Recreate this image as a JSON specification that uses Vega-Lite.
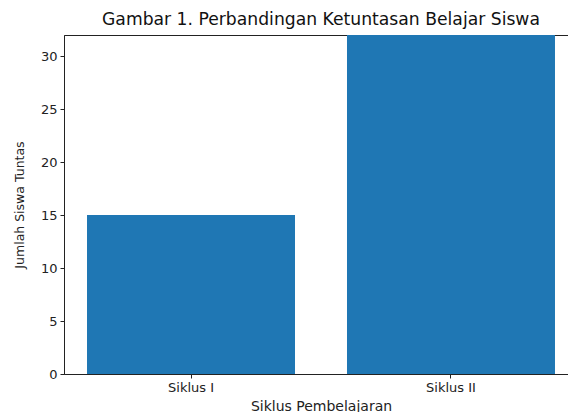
{
  "$schema": "https://vega.github.io/schema/vega-lite/v6.json",
  "autosize": "none",
  "padding": {"left": 64, "top": 35, "right": 0, "bottom": 38},
  "width": 514,
  "height": 339,
  "background": "white",
  "title": {
    "text": "Gambar 1. Perbandingan Ketuntasan Belajar Siswa",
    "font": "DejaVu Sans",
    "fontSize": 17.2,
    "fontWeight": "normal",
    "color": "#111",
    "offset": 7,
    "anchor": "middle"
  },
  "data": {
    "values": [
      {"siklus": "Siklus I", "jumlah": 15},
      {"siklus": "Siklus II", "jumlah": 32}
    ]
  },
  "mark": {"type": "bar", "color": "#1f77b4"},
  "encoding": {
    "x": {
      "field": "siklus",
      "type": "nominal",
      "sort": null,
      "scale": {"paddingInner": 0.2, "paddingOuter": 0.0885},
      "axis": {
        "title": "Siklus Pembelajaran",
        "labelAngle": 0,
        "titlePadding": 5,
        "titleFontSize": 14
      }
    },
    "y": {
      "field": "jumlah",
      "type": "quantitative",
      "scale": {"domain": [0, 32], "nice": false, "clamp": true},
      "axis": {
        "title": "Jumlah Siswa Tuntas",
        "values": [0, 5, 10, 15, 20, 25, 30],
        "titlePadding": 14,
        "titleFontSize": 12.5
      }
    }
  },
  "config": {
    "view": {"stroke": "#222", "strokeWidth": 1},
    "axis": {
      "grid": false,
      "domainColor": "#222",
      "domainWidth": 1,
      "tickColor": "#222",
      "tickSize": 4,
      "labelFont": "DejaVu Sans",
      "labelFontSize": 13,
      "labelColor": "#222",
      "labelPadding": 3,
      "titleFont": "DejaVu Sans",
      "titleFontSize": 12,
      "titleFontWeight": "normal",
      "titleColor": "#222"
    }
  }
}
